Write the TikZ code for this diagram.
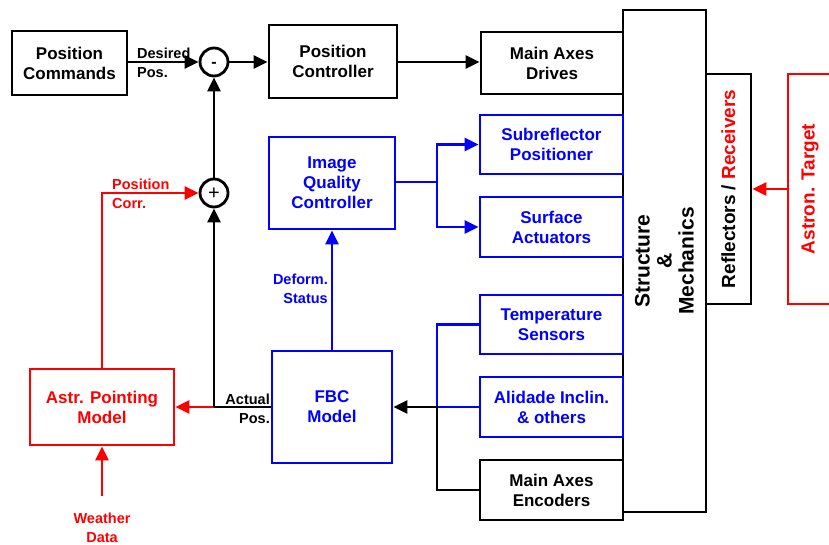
\documentclass[tikz,border=0pt]{standalone}
\usepackage{fontspec}
\setmainfont{Liberation Sans}
\usetikzlibrary{arrows.meta}
\definecolor{pblue}{RGB}{0,0,255}
\definecolor{pred}{RGB}{255,0,0}
\tikzset{
  box/.style={draw, line width=2.8pt, align=center, inner sep=0pt, font=\fontsize{17}{20}\selectfont\bfseries},
  bluebox/.style={box, draw=pblue, text=pblue},
  redbox/.style={box, draw=pred, text=pred},
  sumnode/.style={draw, circle, line width=2.8pt, minimum size=28pt, inner sep=0pt},
  lbl/.style={font=\fontsize{14.5}{19}\selectfont\bfseries, inner sep=0pt},
  conn/.style={line width=2.8pt},
  arr/.style={conn, -{Triangle[length=14pt,width=13pt]}},
}
\begin{document}
\begin{tikzpicture}[x=1pt,y=-1pt]
\useasboundingbox (0,0) rectangle (829,545);
\clip (0,0) rectangle (829,545);
% nodes
\node[box, minimum width=115pt, minimum height=64pt] (pc) at (69.5,63) {Position\\Commands};
\node[sumnode] (minus) at (214,62) {};
\node[font=\fontsize{16}{16}\selectfont\bfseries] at (214,64.5) {-};
\node[box, minimum width=128pt, minimum height=73pt] (ctrl) at (333,61.5) {Position\\Controller};
\node[box, minimum width=142pt, minimum height=62pt] (drives) at (552,63) {Main Axes\\Drives};
\node[box, minimum width=502pt, minimum height=83pt, rotate=90, font=\fontsize{21}{22}\selectfont\bfseries] (sm) at (664.5,261) {Structure\\\&\\Mechanics};
\node[box, minimum width=230pt, minimum height=45pt, rotate=90, font=\fontsize{19}{22}\selectfont\bfseries] (rr) at (728.5,189) {Reflectors / \textcolor{pred}{Receivers}};
\node[redbox, minimum width=230pt, minimum height=44pt, rotate=90, font=\fontsize{19}{22}\selectfont\bfseries] (at) at (810,189) {Astron. Target};
\node[sumnode] (plus) at (214,193) {};
\node[font=\fontsize{20}{20}\selectfont] at (214,193.5) {+};
\node[bluebox, minimum width=126pt, minimum height=92pt] (iqc) at (332,183) {Image\\Quality\\Controller};
\node[bluebox, minimum width=143pt, minimum height=59pt] (sub) at (551.5,144.5) {Subreflector\\Positioner};
\node[bluebox, minimum width=143pt, minimum height=60pt] (surf) at (551.5,227) {Surface\\Actuators};
\node[bluebox, minimum width=143pt, minimum height=59pt] (temp) at (551.5,324.5) {Temperature\\Sensors};
\node[bluebox, minimum width=143pt, minimum height=60pt] (ali) at (551.5,407) {Alidade Inclin.\\\& others};
\node[box, minimum width=143pt, minimum height=60pt] (enc) at (551.5,490) {Main Axes\\Encoders};
\node[bluebox, minimum width=120pt, minimum height=112pt] (fbc) at (332,407) {FBC\\Model};
\node[redbox, minimum width=144pt, minimum height=76pt] (apm) at (102,407) {Astr. Pointing\\Model};
\node[lbl, text=pred, align=center] (weather) at (102,528) {Weather\\Data};
% junctions
\coordinate (j1) at (437,182);
\coordinate (j2) at (437,407);
\coordinate (j3) at (214,407);
\coordinate (j4) at (102,193);
\coordinate (wtop) at (102,496);
% connectors
\draw[arr] (pc.east |- minus.west) -- (minus.west);
\draw[arr] (minus.east) -- (ctrl.west |- minus.east);
\draw[arr] (ctrl.east |- minus.east) -- (drives.west |- minus.east);
\draw[arr] (plus.north) -- (minus.south);
\draw[arr, draw=pred] (fbc.west) -- (apm.east);
\draw[conn] (fbc.west) -- (j3);
\draw[arr] (j3) -- (plus.south);
\draw[arr, draw=pred] (apm.north) -- (j4) -- (plus.west);
\draw[arr, draw=pred] (wtop) -- (apm.south);
\draw[arr, draw=pblue] (fbc.north) -- (iqc.south);
\draw[conn, draw=pblue] (iqc.east |- j1) -- (j1);
\draw[arr, draw=pblue] (j1) |- (sub.west);
\draw[arr, draw=pblue] (j1) |- (surf.west);
\draw[conn, draw=pblue] (temp.west) -| (j2);
\draw[conn, draw=pblue] (ali.west) -- (j2);
\draw[conn] (enc.west) -| (j2);
\draw[arr] (j2) -- (fbc.east);
\draw[arr, draw=pred] (at.north) -- (rr.south);
% labels
\node[lbl, anchor=west, align=left] at (137,62.5) {Desired\\Pos.};
\node[lbl, anchor=west, align=left, text=pred] at (112,194) {Position\\Corr.};
\node[lbl, anchor=east, align=right] at (270,408.5) {Actual\\Pos.};
\node[lbl, anchor=east, align=right, text=pblue] at (328,288.5) {Deform.\\Status};
\end{tikzpicture}
\end{document}
